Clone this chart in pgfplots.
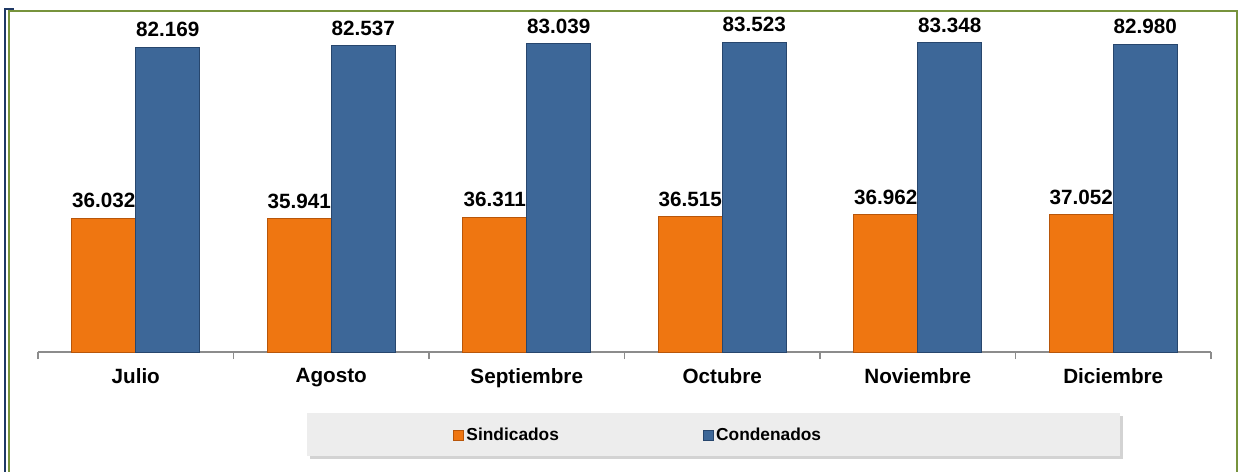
\documentclass[border=0pt]{standalone}
\usepackage{fontspec}
\setmainfont{Liberation Sans}
\usepackage{pgfplots}
\pgfplotsset{compat=1.18}
\usetikzlibrary{shadows}

\definecolor{sind}{HTML}{EF7611}
\definecolor{sindD}{HTML}{B8560A}
\definecolor{cond}{HTML}{3D6798}
\definecolor{condD}{HTML}{27466D}
\definecolor{frameG}{HTML}{77933C}
\definecolor{frameB}{HTML}{1F3864}
\definecolor{axgray}{HTML}{8C8C8C}

\begin{document}
\begin{tikzpicture}
% picture = 1238 x 471 px, 1px = 0.75pt, axis origin sits at px (38,352)
\useasboundingbox (-28.5pt,-89.25pt) rectangle (900pt,264pt);
\begin{scope}[x=0.75pt,y=-0.75pt,shift={(-28.5pt,264pt)}]
  % outer frame
  \draw[frameB, line width=1.5pt] (4.5,472) -- (4.5,9.5) -- (14,9.5);
  \draw[frameG, line width=1.5pt] (8.5,472) -- (8.5,11) -- (1236.5,11) -- (1236.5,472);
  % legend box
  \fill[gray!14, drop shadow={shadow xshift=2pt, shadow yshift=-2pt, opacity=0.35}]
    (307,413) rectangle (1120,456);
\end{scope}

\begin{axis}[
  at={(0,0)}, anchor=south west,
  scale only axis, width=879.75pt, height=252.75pt,
  xmin=-0.5, xmax=5.5, ymin=0, ymax=90.8,
  clip=false,
  axis x line*=bottom, axis y line=none,
  x axis line style={axgray, line width=0.8pt, -},
  ybar=0pt, bar width=48pt,
  xtick={0,...,5},
  xticklabels={Julio,Agosto,Septiembre,Octubre,Noviembre,Diciembre},
  major tick length=0pt,
  minor xtick={-0.5,0.5,...,5.5},
  minor tick length=5.25pt, tick align=outside,
  minor tick style={axgray, line width=0.8pt},
  xticklabel style={font=\fontsize{15.5}{18}\selectfont\bfseries, yshift=-9pt},
  point meta=explicit symbolic,
  nodes near coords,
  nodes near coords style={font=\fontsize{15.5}{18}\selectfont\bfseries, yshift=4pt},
  legend image code/.code={\filldraw[#1, line width=0.4pt] (0pt,-3.75pt) rectangle (7.5pt,3.75pt);},
  legend style={at={(axis description cs:0.3504,-0.2463)}, anchor=west,
    draw=none, fill=none, font=\fontsize{13}{15}\selectfont\bfseries,
    legend columns=2,
    /tikz/every even column/.append style={column sep=106pt}},
]
\addplot[fill=sind, draw=sindD, line width=0.7pt] coordinates {
  (0,36.032) [36.032]
  (1,35.941) [35.941]
  (2,36.311) [36.311]
  (3,36.515) [36.515]
  (4,36.962) [36.962]
  (5,37.052) [37.052]
};
\addplot[fill=cond, draw=condD, line width=0.7pt] coordinates {
  (0,82.169) [82.169]
  (1,82.537) [82.537]
  (2,83.039) [83.039]
  (3,83.523) [83.523]
  (4,83.348) [83.348]
  (5,82.980) [82.980]
};
\legend{Sindicados,Condenados}
\end{axis}
\end{tikzpicture}
\end{document}
